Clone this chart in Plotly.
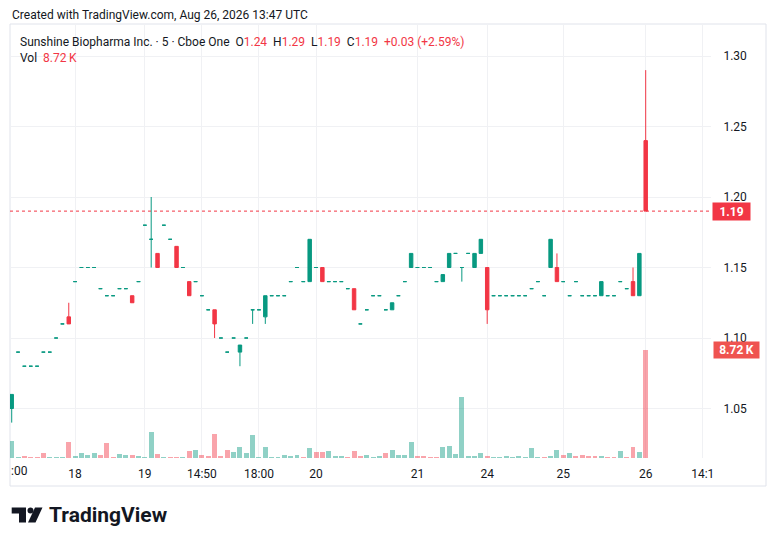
import plotly.graph_objects as go

# 5-minute bars (only intervals that traded), index = bar number
opens = [
    1.05, 1.09, 1.08, 1.08, 1.08, 1.09, 1.09, 1.10, 1.11, 1.115,
    1.14, 1.15, 1.15, 1.15, 1.135, 1.13, 1.13, 1.135, 1.135, 1.13,
    1.14, 1.18, 1.17, 1.16, 1.18, 1.17, 1.165, 1.15, 1.14, 1.14,
    1.13, 1.12, 1.12, 1.10, 1.09, 1.10, 1.09, 1.10, 1.12, 1.12,
    1.115, 1.13, 1.13, 1.13, 1.14, 1.15, 1.14, 1.14, 1.15, 1.15,
    1.14, 1.14, 1.14, 1.135, 1.135, 1.11, 1.12, 1.13, 1.13, 1.12,
    1.12, 1.13, 1.14, 1.15, 1.15, 1.15, 1.15, 1.14, 1.14, 1.15,
    1.16, 1.15, 1.16, 1.15, 1.16, 1.15, 1.13, 1.13, 1.13, 1.13,
    1.13, 1.13, 1.135, 1.14, 1.13, 1.15, 1.15, 1.14, 1.13, 1.14,
    1.13, 1.13, 1.13, 1.13, 1.13, 1.13, 1.14, 1.135, 1.14, 1.13,
    1.24,
]
highs = [
    1.06, 1.09, 1.08, 1.08, 1.08, 1.09, 1.09, 1.10, 1.11, 1.125,
    1.14, 1.15, 1.15, 1.15, 1.135, 1.13, 1.13, 1.135, 1.135, 1.13,
    1.14, 1.18, 1.20, 1.16, 1.18, 1.17, 1.165, 1.15, 1.14, 1.14,
    1.13, 1.12, 1.12, 1.10, 1.09, 1.10, 1.095, 1.10, 1.12, 1.12,
    1.13, 1.13, 1.13, 1.13, 1.14, 1.15, 1.14, 1.17, 1.15, 1.15,
    1.14, 1.14, 1.14, 1.135, 1.135, 1.11, 1.12, 1.13, 1.13, 1.12,
    1.125, 1.13, 1.14, 1.16, 1.15, 1.15, 1.15, 1.14, 1.145, 1.16,
    1.16, 1.15, 1.16, 1.16, 1.17, 1.15, 1.13, 1.13, 1.13, 1.13,
    1.13, 1.13, 1.135, 1.14, 1.13, 1.17, 1.16, 1.14, 1.13, 1.14,
    1.13, 1.13, 1.13, 1.14, 1.13, 1.13, 1.14, 1.135, 1.15, 1.16,
    1.29,
]
lows = [
    1.04, 1.09, 1.08, 1.08, 1.08, 1.09, 1.09, 1.10, 1.11, 1.11,
    1.14, 1.15, 1.15, 1.15, 1.135, 1.13, 1.13, 1.135, 1.135, 1.125,
    1.14, 1.18, 1.15, 1.15, 1.18, 1.17, 1.15, 1.15, 1.13, 1.14,
    1.13, 1.12, 1.10, 1.10, 1.09, 1.10, 1.08, 1.10, 1.11, 1.12,
    1.11, 1.13, 1.13, 1.13, 1.14, 1.15, 1.14, 1.14, 1.15, 1.14,
    1.14, 1.14, 1.14, 1.135, 1.12, 1.11, 1.12, 1.13, 1.13, 1.12,
    1.12, 1.13, 1.14, 1.15, 1.15, 1.15, 1.15, 1.14, 1.14, 1.15,
    1.16, 1.14, 1.16, 1.15, 1.16, 1.11, 1.13, 1.13, 1.13, 1.13,
    1.13, 1.13, 1.135, 1.14, 1.13, 1.15, 1.14, 1.14, 1.13, 1.14,
    1.13, 1.13, 1.13, 1.13, 1.13, 1.13, 1.14, 1.135, 1.13, 1.13,
    1.19,
]
closes = [
    1.06, 1.09, 1.08, 1.08, 1.08, 1.09, 1.09, 1.10, 1.11, 1.11,
    1.14, 1.15, 1.15, 1.15, 1.135, 1.13, 1.13, 1.135, 1.135, 1.125,
    1.14, 1.18, 1.17, 1.15, 1.18, 1.17, 1.15, 1.15, 1.13, 1.14,
    1.13, 1.12, 1.11, 1.10, 1.09, 1.10, 1.095, 1.10, 1.12, 1.12,
    1.13, 1.13, 1.13, 1.13, 1.14, 1.15, 1.14, 1.17, 1.15, 1.14,
    1.14, 1.14, 1.14, 1.135, 1.12, 1.11, 1.12, 1.13, 1.13, 1.12,
    1.125, 1.13, 1.14, 1.16, 1.15, 1.15, 1.15, 1.14, 1.145, 1.16,
    1.16, 1.15, 1.16, 1.16, 1.17, 1.12, 1.13, 1.13, 1.13, 1.13,
    1.13, 1.13, 1.135, 1.14, 1.13, 1.17, 1.14, 1.14, 1.13, 1.14,
    1.13, 1.13, 1.13, 1.14, 1.13, 1.13, 1.14, 1.135, 1.13, 1.16,
    1.19,
]
volumes = [
    1350, 60, 135, 60, 60, 380, 60, 60, 60, 1270,
    135, 380, 215, 380, 215, 1190, 60, 300, 215, 215,
    135, 60, 2080, 300, 60, 60, 60, 60, 540, 620,
    215, 135, 1920, 135, 620, 460, 860, 380, 1840, 60,
    860, 60, 60, 215, 135, 215, 60, 780, 460, 460,
    540, 135, 135, 60, 540, 135, 215, 60, 135, 380,
    620, 215, 215, 1270, 135, 135, 60, 60, 860, 945,
    300, 4910, 135, 135, 380, 135, 60, 60, 135, 60,
    135, 60, 780, 60, 60, 135, 620, 215, 380, 135,
    215, 135, 135, 135, 60, 60, 540, 60, 860, 460,
    8720,
]
# volume bar colour per bar: u = up (teal), d = down (red)
vol_dir = list(
    "uudddduuud"
    "uuuudddu" "ud"
    "uuudu" "ddudu"
    "ddddduuuuu"
    "uuuuuududd"
    "uuudddu" "uud"
    "uuuudddduu"
    "uuuuuduuuu"
    "uuuuduudud"
    "dddudduddu"
    "d"
)

time_ticks = [10, 21, 30, 39, 48, 64, 75, 87, 100, 109]
time_labels = ["18", "19", "14:50", "18:00", "20", "21", "24", "25", "26", "14:1"]
price_ticks = [1.05, 1.10, 1.15, 1.20, 1.25, 1.30]

UP = "#089981"
DOWN = "#F23645"
TEXT = "#131722"

idx = list(range(len(opens)))
is_up = [c >= o for o, c in zip(opens, closes)]


def pick(vals, want_up):
    return [v if u == want_up else None for v, u in zip(vals, is_up)]


# plot area in pixels: x 10..711, y 24..458
def px(x):
    return (x - 10) / 701


def py(y):
    return (458 - y) / 434


fig = go.Figure()

fig.add_trace(go.Bar(
    x=idx, y=volumes, yaxis="y2", width=0.78,
    marker=dict(color=["rgba(8,153,129,0.45)" if d == "u" else "rgba(242,54,69,0.45)" for d in vol_dir],
                line_width=0),
    hoverinfo="skip", showlegend=False,
))

for want_up, col in [(True, UP), (False, DOWN)]:
    fig.add_trace(go.Candlestick(
        x=idx, open=pick(opens, want_up), high=pick(highs, want_up),
        low=pick(lows, want_up), close=pick(closes, want_up),
        increasing=dict(line=dict(color=col, width=1), fillcolor=col),
        decreasing=dict(line=dict(color=col, width=1), fillcolor=col),
        whiskerwidth=0, showlegend=False, hoverinfo="skip",
    ))

legend_line = (
    "Sunshine Biopharma Inc. · 5 · Cboe One  "
    f"O<span style='color:{DOWN}'>1.24</span>  "
    f"H<span style='color:{DOWN}'>1.29</span>  "
    f"L<span style='color:{DOWN}'>1.19</span>  "
    f"C<span style='color:{DOWN}'>1.19</span>  "
    f"<span style='color:{DOWN}'>+0.03 (+2.59%)</span>"
)

annotations = [
    dict(text="Created with TradingView.com, Aug 26, 2026 13:47 UTC", x=px(10), y=py(15),
         xanchor="left", yanchor="middle", font=dict(size=12, color=TEXT)),
    dict(text=legend_line, x=px(18), y=py(42), xanchor="left", yanchor="middle",
         font=dict(size=12, color=TEXT)),
    dict(text=f"Vol  <span style='color:{DOWN}'>8.72\u2009K</span>", x=px(18), y=py(58),
         xanchor="left", yanchor="middle", font=dict(size=12, color=TEXT)),
    dict(text=":00", x=px(9), y=py(471), xanchor="left", yanchor="middle",
         font=dict(size=12, color=TEXT)),
    dict(text="<b>1.19</b>", xref="paper", yref="y", x=1, y=1.19, xanchor="left", yanchor="middle",
         xshift=1, bgcolor=DOWN, font=dict(size=12, color="white"), width=34, height=14, borderpad=1.5),
    dict(text="<b>8.72\u2009K</b>", xref="paper", yref="y2", x=1, y=volumes[-1], xanchor="left",
         yanchor="middle", xshift=2, bgcolor="#ef5350", font=dict(size=12, color="white"),
         width=42, height=13, borderpad=1.5),
    dict(text="<b>TradingView</b>", x=px(47), y=py(515), xanchor="left", yanchor="middle",
         font=dict(size=21, color=TEXT, family="Roboto")),
]
for a in annotations:
    a.setdefault("xref", "paper")
    a.setdefault("yref", "paper")
    a["showarrow"] = False

shapes = [
    # chart frame
    dict(type="rect", x0=px(10), x1=px(766), y0=py(486), y1=py(24),
         line=dict(color="#e0e3eb", width=1)),
    # last price line
    dict(type="line", xref="paper", yref="y", x0=0, x1=1, y0=1.19, y1=1.19,
         line=dict(color=DOWN, width=1, dash="dot")),
    # logo mark
    dict(type="path", fillcolor=TEXT, line_width=0,
         path=f"M {px(11.7)},{py(507.5)} L {px(26)},{py(507.5)} L {px(26)},{py(522.5)} "
              f"L {px(19)},{py(522.5)} L {px(19)},{py(513.5)} L {px(11.7)},{py(513.5)} Z"),
    dict(type="circle", fillcolor=TEXT, line_width=0,
         x0=px(27.5), x1=px(33.5), y0=py(513.5), y1=py(507.5)),
    dict(type="path", fillcolor=TEXT, line_width=0,
         path=f"M {px(35)},{py(507.5)} L {px(42.5)},{py(507.5)} L {px(35.5)},{py(522.5)} "
              f"L {px(28)},{py(522.5)} Z"),
]
for s in shapes:
    s.setdefault("xref", "paper")
    s.setdefault("yref", "paper")
    s["layer"] = "above" if s["type"] != "rect" else "below"

fig.update_layout(
    width=776, height=546,
    margin=dict(l=10, r=65, t=24, b=88),
    paper_bgcolor="white", plot_bgcolor="white",
    font=dict(family="Roboto", size=12, color=TEXT),
    boxgap=0.22, bargap=0,
    showlegend=False,
    xaxis=dict(range=[-0.27, 110.3], tickvals=time_ticks, ticktext=time_labels,
               showgrid=True, gridcolor="#f0f1f4", zeroline=False, showline=False,
               ticks="outside", ticklen=5, tickcolor="rgba(0,0,0,0)",
               rangeslider=dict(visible=False), tickfont=dict(size=12, color=TEXT)),
    yaxis=dict(range=[1.0149, 1.3227], side="right", tickvals=price_ticks, tickformat=".2f",
               showgrid=True, gridcolor="#f0f1f4", zeroline=False, showline=False,
               ticks="outside", ticklen=9, tickcolor="rgba(0,0,0,0)",
               tickfont=dict(size=12, color=TEXT)),
    yaxis2=dict(range=[0, 35040], overlaying="y", visible=False),
    annotations=annotations,
    shapes=shapes,
)

# the page body has a default 8px margin; drop it so the figure sits at 0,0
fig.write_html("out.html", config={"displayModeBar": False},
               post_script="document.body.style.margin='0';")
